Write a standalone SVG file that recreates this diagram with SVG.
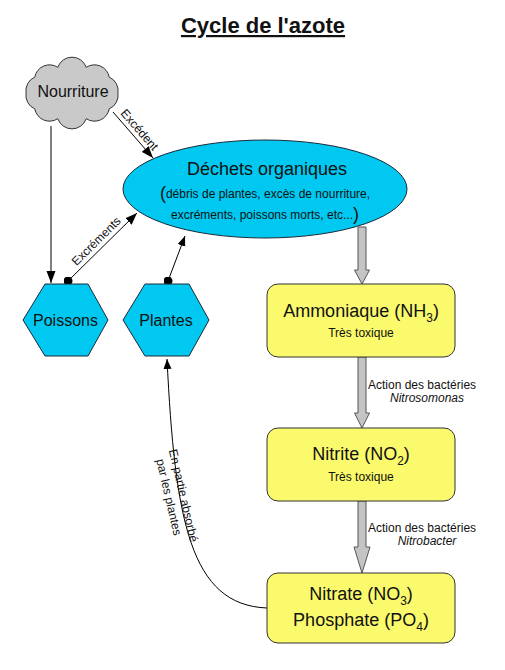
<svg xmlns="http://www.w3.org/2000/svg" width="505" height="670" viewBox="0 0 505 670">
<style>
text{font-family:"Liberation Sans",Arial,sans-serif;fill:#111}
.node{fill:#00c8f0;stroke:#1a2a3a;stroke-width:1}
.box{fill:#fbfa6c;stroke:#333;stroke-width:1}
.ln{fill:none;stroke:#000;stroke-width:1}
.fat{fill:#c4c4c4;stroke:#555;stroke-width:1}
.t16{font-size:16px}
.t18{font-size:18px}
.t12{font-size:12px}
</style>
<defs>
<marker id="ah" viewBox="0 0 10 10" refX="10" refY="5" markerWidth="10" markerHeight="10" markerUnits="userSpaceOnUse" orient="auto">
<path d="M0,1 L10,5 L0,9 Z" fill="#000"/>
</marker>
<marker id="ah2" viewBox="0 0 12 10" refX="12" refY="5" markerWidth="12" markerHeight="10" markerUnits="userSpaceOnUse" orient="auto">
<path d="M0,0.5 L12,5 L0,9.5 Z" fill="#000"/>
</marker>
<marker id="dot" viewBox="0 0 10 10" refX="5" refY="5" markerWidth="9" markerHeight="9" markerUnits="userSpaceOnUse">
<circle cx="5" cy="5" r="5" fill="#000"/>
</marker>
</defs>
<rect width="505" height="670" fill="#fff"/>
<g id="title">
<text x="263" y="33" text-anchor="middle" font-size="22" font-weight="bold" text-decoration="underline">Cycle de l'azote</text>
</g>
<g id="connectors">
<line class="ln" x1="51" y1="126" x2="51" y2="283" marker-end="url(#ah2)"/>
<line class="ln" x1="113" y1="112" x2="153" y2="158" marker-end="url(#ah2)"/>
<text class="t12" transform="translate(136.5,132.5) rotate(49)" text-anchor="middle">Excédent</text>
<line class="ln" x1="68" y1="281" x2="137" y2="213" marker-start="url(#dot)" marker-end="url(#ah2)"/>
<text class="t12" transform="translate(99,244) rotate(-44.6)" text-anchor="middle">Excréments</text>
<line class="ln" x1="168" y1="281" x2="185" y2="236" marker-start="url(#dot)" marker-end="url(#ah)"/>
<path class="ln" d="M267,608 C190,605 175,520 167,359" marker-end="url(#ah)"/>
<text class="t12" transform="translate(179.5,496.5) rotate(77)" text-anchor="middle">En partie absorbé</text>
<text class="t12" transform="translate(165,498) rotate(77)" text-anchor="middle">par les plantes</text>
<path class="fat" d="M358,227 L366,227 L366,270 L369.5,270 L362,284 L354.5,270 L358,270 Z"/>
<path class="fat" d="M358,357 L366,357 L366,413 L369.5,413 L362,428 L354.5,413 L358,413 Z"/>
<text class="t12" x="368" y="389">Action des bactéries</text>
<text class="t12" x="427" y="402" text-anchor="middle" font-style="italic">Nitrosomonas</text>
<path class="fat" d="M358,501 L366,501 L366,547 L370,547 L362,573 L354,547 L358,547 Z"/>
<text class="t12" x="368" y="532">Action des bactéries</text>
<text class="t12" x="427" y="545" text-anchor="middle" font-style="italic">Nitrobacter</text>
</g>
<g id="nourriture">
<path d="M118,93 A15,15 0 0 1 109.2,108.9 A15,15 0 0 1 86.2,118.7 A15,15 0 0 1 57.8,118.7 A15,15 0 0 1 34.8,108.9 A15,15 0 0 1 26,93 A15,15 0 0 1 34.8,77.1 A15,15 0 0 1 57.8,67.3 A15,15 0 0 1 86.2,67.3 A15,15 0 0 1 109.2,77.1 A15,15 0 0 1 118,93 Z" fill="#c9c9c9" stroke="#333" stroke-width="1"/>
<text class="t16" x="73" y="97" text-anchor="middle">Nourriture</text>
</g>
<g id="dechets">
<ellipse class="node" cx="265" cy="189" rx="142" ry="49"/>
<text class="t18" x="267" y="175" text-anchor="middle">Déchets organiques</text>
<text class="t12" x="265" y="198" text-anchor="middle"><tspan font-size="18" dy="1">(</tspan><tspan dy="-1">débris de plantes, excès de nourriture,</tspan></text>
<text class="t12" x="265" y="219" text-anchor="middle">excréments, poissons morts, etc...<tspan font-size="18" dy="1">)</tspan></text>
</g>
<g id="poissons">
<polygon class="node" points="23,320 45,284 88,284 108,320 88,356 45,356"/>
<text class="t16" x="65.5" y="326" text-anchor="middle">Poissons</text>
</g>
<g id="plantes">
<polygon class="node" points="123,320 145,284 189,284 209,320 189,356 145,356"/>
<text class="t16" x="166" y="326" text-anchor="middle">Plantes</text>
</g>
<g id="ammoniaque">
<rect class="box" x="267" y="284" width="188" height="73" rx="11"/>
<text class="t18" x="361" y="317" text-anchor="middle">Ammoniaque (NH<tspan font-size="12" dy="5">3</tspan><tspan dy="-5">)</tspan></text>
<text class="t12" x="361" y="337" text-anchor="middle">Très toxique</text>
</g>
<g id="nitrite">
<rect class="box" x="267" y="428" width="188" height="73" rx="11"/>
<text class="t18" x="361" y="460" text-anchor="middle">Nitrite (NO<tspan font-size="12" dy="5">2</tspan><tspan dy="-5">)</tspan></text>
<text class="t12" x="361" y="481" text-anchor="middle">Très toxique</text>
</g>
<g id="nitrate">
<rect class="box" x="267" y="573" width="188" height="70" rx="11"/>
<text class="t18" x="361" y="600" text-anchor="middle">Nitrate (NO<tspan font-size="12" dy="5">3</tspan><tspan dy="-5">)</tspan></text>
<text class="t18" x="361" y="626" text-anchor="middle">Phosphate (PO<tspan font-size="12" dy="5">4</tspan><tspan dy="-5">)</tspan></text>
</g>
</svg>
